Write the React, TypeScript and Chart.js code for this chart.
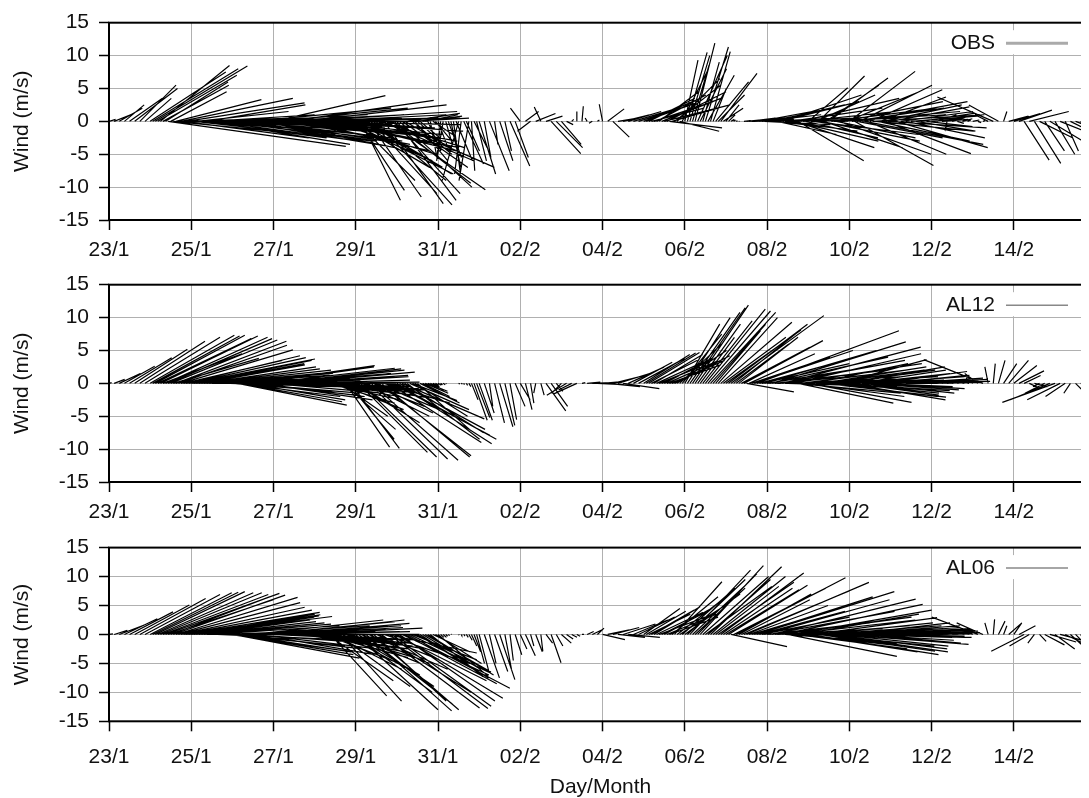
import React, { useEffect, useRef } from "react";
import { Chart, registerables } from "chart.js";

Chart.register(...registerables);

// Tick labels every 2 days, starting 23/1
const TICK_LABELS = ["23/1", "25/1", "27/1", "29/1", "31/1", "02/2", "04/2", "06/2", "08/2", "10/2", "12/2", "14/2"];

// Main sticks: one every 3 hours from 23/1 00h (8 per day, one row per day)
const STEP_HOURS = 3;
// Extra sticks in the dense periods, at hh:30 between the main ones (8 per day)
const EXTRA_OFFSET_HOURS = 1.5;
const EXTRA_START_DAY = 1; // 24/1 .. 31/1
const EXTRA2_START_DAY = 13; // 05/2 .. 10/2

// OBS eastward (u) and northward (v) wind, m/s
const OBS_U = [
  1, 2.5, 3.5, 3, 5, 6.5, 5.5, 4, // 23/1
  11.5, 14, 10.5, 9.5, 8.5, 13, 17, 18, // 24/1
  16, 14, 19, 15, 21, 18, 20, 22, // 25/1
  20, 23, 19, 22, 21, 24, 20, 23, // 26/1
  17, 22, 18, 22, 20, 24, 19, 23, // 27/1
  20, 18, 21, 16, 19, 14, 17, 12, // 28/1
  9, 6, 13, 10, 11.5, 14, 15, 12, // 29/1
  9, 10, 8, 6, 4, 6, 2, 3, // 30/1
  1.5, -1, 2, 1, -2.5, 3, -1.5, 2, // 31/1
  2.5, 1, 3, 0.5, 2, 1, 3, 2, // 01/2
  -1.5, 2, -2, 3, -1, 2.5, 4.5, 4, // 02/2
  3, 1, 0.3, 0, 0.2, -0.3, -0.5, 0.3, // 03/2
  -0.5, 2.5, 2.5, 3, 4, 5, 6, 7, // 04/2
  8, 7, 9, 6, 10, 8, 7, 6, // 05/2
  2, 3, 3, 4, 3.5, 3, 5, 5.5, // 06/2
  2, 0.5, 0.2, 0, 3, 5, 7, 9, // 07/2
  8, 11, 9, 12, 10, 13, 10, 14, // 08/2
  6, 16, 7, 12, 9, 17, 14, 15, // 09/2
  10, 12, 11, 18, 11, 15, 10, 13, // 10/2
  12, 14, 11, 12, 10, 9, 8, 7, // 11/2
  5, 3, 4, -0.3, 2, 1, 1.5, 0.5, // 12/2
  1, 0.5, 0.3, -2, -8.5, -4.5, 0.5, 3, // 13/2
  4, 5, 3.8, 6, 4, 5, 3, 5, // 14/2
  3, 5, 2, 6, 4, 3, 5, 2, // 15/2
];
const OBS_V = [
  0.3, 1, 2, 2.5, 3.5, 5, 5.5, 3.5,
  7.5, 8.4, 8.5, 6, 4.5, 3.3, 3.5, 2.8,
  -1, 1.5, -2.5, 2.5, -3.5, -2, 0.5, -3,
  -1.5, -3.8, 1, -2.5, 2, -2, -4, 0,
  3.9, -1, -3, 3.2, -2, 1.5, -4.5, -0.5,
  1, -3.5, -1.5, -5, 0.5, -6, -3, -7,
  -9, -12, -8, -11, -12.7, -6, -10.4, -9.4,
  -12, -7, 1.2, -5, -3.5, 0.8, -4.5, -2,
  -4, -6, -5.5, -7.5, -9, -6.5, -9, -4,
  -8, -5.5, -7.5, -3.5, -6, -4.5, -6.8, -5.5,
  2, 1.5, -1.5, 1.2, 2.2, 0.8, -4.9, -4,
  -3.5, -0.5, 0.3, 1.5, 2.3, 0.5, -0.3, 0.2,
  2.6, 1.9, -2.4, 0.5, 1, 1.5, 1.8, 2.2,
  2.8, 3.5, 3, 4.5, 2.5, -1, 5.5, -1.5,
  9.3, 10, 11.9, 8, 11.3, 10.6, 6, 7.3,
  2.5, 0.3, 0.1, 0, 0.3, 0.5, 0.8, 1,
  1.5, 2.5, -2, 4, 0.5, -3, -6, 1.5,
  5.1, -2, 6.9, -4, 6.6, 1, -5, 3,
  7.6, -6.7, 5.5, -3.5, 4.8, -1.5, 3.7, -4.9,
  2.2, -4, 1.5, -2.5, 0.8, -1.5, 1.2, -0.8,
  0.5, 1, 0.3, -1.5, 0.6, -0.3, 0.4, 0.2,
  0.2, -0.2, 0.1, 1, 3.7, 2.5, 1.5, 0.8,
  1.2, 1.7, -5.9, 1.5, -6.4, -2.5, -4.5, -3,
  -5, -2, -4.5, -3, -1.5, -4, -2.5, -3,
];
const OBS_U_EXTRA = [
  13, 12, 10, 27, 15, 18, 19, 17, // 24/1
  18, 17, 20, 16, 22, 19, 21, 20, // 25/1
  21, 22, 20, 23, 19, 22, 21, 24, // 26/1
  20, 19, 23, 18, 21, 22, 20, 21, // 27/1
  19, 17, 20, 15, 18, 13, 16, 10, // 28/1
  7, 12, 8, 11, 13, 9, 16, 10, // 29/1
  11, 7, 9, 5, 3, 5, 1, 2.5, // 30/1
  -0.5, 1, 1.5, 2.5, -1, 2, 0.5, 1.5, // 31/1
];
const OBS_V_EXTRA = [
  8, 7, 5.5, -3.8, -1.5, 0.5, -2.5, -0.5,
  -2, 0.5, -1.5, 1, -3, -0.5, -2, -1,
  -2.5, -1, -3, 0.5, -1.5, -3.5, 1, -2,
  2, -2, 0.5, -3.5, -1, 2.5, -2.5, 0.5,
  -2, -1, -4, -2.5, -4.5, -1, -8, -5,
  -10.5, -7, -11.5, -9, -4, -12.5, -7, -11,
  -10, -4, 0.5, -6, -2.5, 1, -5.5, -3,
  -5, -3.5, -7, -6, -8, -4.5, -7.5, -6,
];
const OBS_U_EXTRA2 = [
  7.5, 8, 7.5, 9, 9, 7, 6.5, 4, // 05/2
  3, 2.5, 4.5, 2.5, 4, 2, 4, 3, // 06/2
  1, 0.3, 0.1, 1, 4, 6, 8, 10, // 07/2
  10, 9, 12, 11, 14, 12, 15, 11, // 08/2
  13, 9, 15, 8, 16, 12, 18, 11, // 09/2
  14, 13, 16, 12, 17, 14, 12, 15, // 10/2
];
const OBS_V_EXTRA2 = [
  3.2, 2, 4, 3.5, 4.5, 2, 6.5, 8,
  10.5, 8.5, 10, 9, 7, 5, 4, 2,
  1, 0.2, 0, 0.1, 0.5, 0.3, 1.5, -0.5,
  0.5, -1, 3, -1.5, 2, -4, 3.5, -2.5,
  0.5, 4, -3, 5.5, 2, -2.5, 1.5, 4.5,
  2, -2.5, 3, -5, 1, -3, 2.5, -1,
];

// AL12 model
const AL12_U = [
  0.4, 1.6, 3.2, 4.6, 6.4, 8, 9.9, 11.4,
  12.8, 13.6, 14.8, 15.5, 16.2, 16.8, 17, 17.3,
  18.8, 17.5, 15.7, 17.2, 19.4, 17.1, 19.4, 18,
  14.8, 16.6, 17.8, 14.8, 18.5, 16.2, 20, 16.9,
  19.9, 18.4, 19.9, 16.1, 17.6, 16, 17.5, 16,
  14.4, 12.1, 14.4, 9.8, 14.3, 7.2, 6.7, 7.4,
  9.7, 11.5, 8.9, 13.2, 9.6, 13.4, 9.4, 14.9,
  14.4, 12.5, 11, 6.8, 7.9, 4.1, 3, 1,
  0.5, 0.3, 0, 0, 0.2, 0.1, 0.3, 2,
  2, 1.5, 0.5, 1.5, 2, 1.5, 1, 1.5,
  1.5, 1, 0.5, -0.3, 0.5, 3, 2.5, 1,
  -1.5, -3, -2, -3.5, 0.5, 2, 3, 4,
  3.4, 4.9, 4, 4.8, 5.5, 5.5, 5.9, 7,
  7, 7.7, 7.4, 6.2, 7.2, 7.8, 8.4, 6.4,
  5.3, 7.6, 8.1, 5.2, 9.1, 9.9, 6.8, 10.8,
  11.4, 14.1, 8, 10.4, 7.2, 11.9, 21.6, 13.3,
  15.6, 20.3, 16, 21, 16.6, 19.5, 14.5, 14.7,
  15.7, 14.4, 16.1, 18.6, 15.3, 17.6, 13.3, 14.4,
  14.5, 12.8, 13.7, 14.3, 14.4, 11.8, 13.2, 11.7,
  12, 12.3, 12.5, 12.8, 11.7, 10, 8.4, 5.9,
  3, 2, 1.5, 1, 0.8, 0.5, 0.3, 0.2,
  -1, -2, -9, -0.5, 0.3, 1, 2, 3,
  3.5, 3.8, 2.5, 1.5, 2, -1, -3, -6,
  -8, -5, -3, -1, 2, 4, 5, 6,
];
const AL12_V = [
  0.1, 0.6, 1.5, 2.6, 3.9, 5.2, 6.4, 7,
  7.3, 7.3, 7.2, 7, 6.6, 6.4, 5.1, 4.2,
  3.7, 3.5, 2.8, 2.2, 1.8, 1.2, 0.8, 0.2,
  -1.2, -3.3, -1.5, -2.5, 2.7, -2, 2.3, -0.8,
  2, 1, 1.7, -0.5, 0.5, -1.2, 0.2, -1,
  -0.8, -2, -1.5, -3, -2.2, -5, -9.7, -9.9,
  -6, -11.2, -3.5, -11.7, -4, -11.2, -3, -7.9,
  -9.2, -5.4, -8.5, -2.6, -7, -2, -1.2, -0.5,
  -0.3, -0.2, 0, 0, -0.1, -0.2, -0.5, -5.6,
  -5.6, -4.5, -3.5, -6, -6.6, -6.4, -5.5, -3.5,
  -2.5, -4, -3, -1.5, -1.8, -4.2, -3.5, -1.2,
  -1.5, -1.8, -1, -1.6, 0.1, 0.2, 0.1, -0.2,
  0.3, -0.5, 1, 1.5, -0.8, 2.5, 3.2, 3.8,
  4.4, 4.7, 4.4, 2.5, 3.8, 2.8, 4.2, 6,
  9, 10.8, 11.9, 7, 11.3, 10.8, 8, 9.3,
  8.1, 10.3, 6, 5.5, -1.3, 4, 8, 3,
  2.5, 6.3, 1.5, 5.5, -0.5, 4.5, -3, 1,
  -2.9, 3, 2, -2.1, 0.5, -1.1, 3.6, -1.5,
  2.5, -1.8, 1.5, -1, 1, -0.5, 1.8, 0.5,
  1.2, 0.5, 0.8, 0.3, 0.6, 0.2, 0.4, 0.1,
  0.3, 0.2, 0.3, 0.1, 0.2, 0.1, 0, 0,
  0.8, 1.5, 3.6, 2.5, 3, 3.5, 3, 3.5,
  2.7, 1.9, 1.2, -0.7, -0.5, -0.5, -1.5, -2.5,
  -2.9, -2.5, -2, -1.5, -2, -1.5, -2.5, -1,
];
const AL12_U_EXTRA = [
  13.2, 14.2, 12, 15.8, 13, 16.5, 15, 17.8,
  18, 16, 17, 18.5, 18, 19, 17.5, 16,
  16, 15.5, 17.5, 16, 18, 17, 19, 17,
  19, 17.5, 18.5, 17, 17, 16.5, 17, 15.5,
  13, 13.5, 11, 14, 10, 8, 7, 8.5,
  10.5, 10, 12, 9, 14, 10, 14, 15.5,
  13, 12, 9, 8, 6, 3.5, 2, 0.5,
  0.3, 0.1, 0, 0.1, 0.2, 0.2, 1, 2,
];
const AL12_V_EXTRA = [
  7.2, 6.8, 4.5, 6.8, 3.8, 5.8, 3.5, 3.9,
  3.6, 3, 2.5, 2, 1.5, 1, 0.5, -0.5,
  -2, -2.8, 0.5, -1.8, 2.5, -2.5, 1.5, -1.5,
  2.2, 0, 1.2, -1, 1, -0.5, -0.8, -1.8,
  -1.5, -0.5, -2.5, -1, -4, -7, -8.5, -5,
  -10.5, -5, -11.5, -4.5, -11, -3, -9, -8.5,
  -7, -7.5, -4, -5, -3, -1.5, -1, -0.3,
  -0.2, -0.1, 0, 0, -0.1, -0.3, -2.5, -5.2,
];
const AL12_U_EXTRA2 = [
  7.5, 7, 7, 7.5, 7.5, 8, 7.5, 6,
  6.5, 8, 6.5, 7.5, 9.5, 8, 9, 9.5,
  12, 10, 9, 12, 10, 15, 13, 17,
  18, 17, 19, 18, 20, 16, 16, 15,
  15, 17, 16, 17, 16, 15, 14, 15,
  14, 13.5, 14, 13, 14, 12.5, 12.5, 12,
];
const AL12_V_EXTRA2 = [
  4.6, 3.5, 3.2, 3.5, 3.3, 3.5, 5, 7.5,
  10, 11.5, 9, 9.5, 11, 9, 10, 7,
  9, 8, 7, 6.5, 4.5, 5, 3.5, 5,
  4, 2, 3.5, 0.5, 3, -1.5, 2, -2,
  1.5, -1, 2.5, 1, -2, 2, 1, -2.5,
  0.5, 2, -1.5, 1.5, -0.8, 1, 0.3, 1.2,
];

// AL06 model
const AL06_U = [
  0.6, 2, 3.7, 5, 6.6, 8.3, 10, 11.4,
  12.4, 13.6, 15.4, 17.3, 15, 18.5, 18.8, 20.3,
  21.4, 18, 16.5, 17.9, 19.4, 17.1, 19.4, 17.9,
  19.3, 17.2, 19.3, 18.5, 19.8, 17.7, 20, 17.7,
  19.9, 18.4, 19.1, 16.1, 19.5, 16, 17.5, 15.2,
  13.7, 15.2, 11.3, 8.6, 12.1, 9.3, 11.9, 10.5,
  12.5, 10.4, 13, 13.3, 9.6, 14.9, 13.7, 15.1,
  16.1, 13.2, 15.6, 9.8, 10.8, 8.8, 10, 5.6,
  7.6, 0.5, 0.2, 0, 0.1, 0.2, 0.5, 1,
  1.5, 2.3, 1, 2, 2.3, 1, 0.5, 1,
  1, 1.5, 0.5, 1, 0.3, 1, 1.5, 1,
  1.5, 1, 0.8, 0.5, 0.3, 1, 1.5, 1,
  3.4, 3.3, 4, 4.1, 4.9, 4.8, 5.2, 5.5,
  5.5, 6.3, 7, 7, 7.2, 7.4, 7.2, 7.6,
  8.4, 9.2, 7.6, 9.6, 10.1, 10.8, 9.6, 12.6,
  11.1, 8.5, 16.6, 10.4, 18.6, 11.9, 20.9, 13.3,
  15.6, 21.8, 16, 21.3, 16.6, 21.1, 15.9, 16.2,
  19.8, 18.8, 17.7, 17.9, 18, 16.9, 17.5, 18.9,
  15.3, 15.1, 15.3, 15.2, 15.6, 12.9, 14.3, 12.9,
  13.3, 12.8, 11.3, 9.8, 8.8, 6.8, 5.3, 3.6,
  2.5, 2, 1.5, 1, 0.8, 0.5, 0.3, 0.2,
  -1, -7, -4, -0.5, 0.2, 1, 0.5, 2,
  1.2, 2.5, -5, -3, -1, 1, 3, 4,
  3, 5, 4, 5, 3, 2, 1, 0.5,
];
const AL06_V = [
  0.1, 0.7, 1.6, 2.7, 3.9, 5.1, 6.2, 6.9,
  7.2, 7.4, 7.2, 7.1, 6.5, 6.4, 4.7, 3.8,
  3.1, 3.5, 2.5, 2, 1.5, -0.8, 0.8, -2,
  -4.1, -3, 1.5, -1.5, 2.5, -3.5, 2.2, -0.5,
  2.5, 0.5, 1.9, -1.5, 1.1, -2.5, 0, -1.5,
  -3, -1, -5, -10.6, -4, -11.5, -2.5, -7,
  -13, -5, -13.2, -13, -4.4, -12.7, -3.2, -12.4,
  -11, -7, -9.3, -4.4, -7.5, -6, -7, -3,
  -7.2, -0.5, -0.2, 0, -0.1, -0.3, -1, -3,
  -6.5, -7.5, -5, -6.4, -7.8, -6, -4.5, -3.5,
  -2.5, -3.7, -2, -3, -2.9, -1.5, -4.9, -2,
  -1.5, -0.8, -0.5, -0.3, 0, 0.5, 0.8, 1.1,
  -0.9, 0.8, 1.2, -0.5, 1.8, -0.5, 2.5, 3,
  4.5, 3.5, 4.8, 3, 4.5, 3, 9.1, 5.5,
  7, 11.1, 8, 11.9, 8.3, 11.7, 8.3, 10.6,
  7.7, -2.1, 9.8, 6, 9, 4, 7.4, 3,
  2, 6.1, 1, 5.2, -3.8, 4.2, -2, 1.5,
  -3.5, 2.9, -2.9, 1.5, -2.5, 0.5, -1.5, -1.7,
  2, -1, 1.2, -0.5, 0.8, 0.2, 0.5, 0.2,
  0.6, 0.3, 0.4, 0.1, 0.3, 0.1, 0.2, 0,
  0.2, 0.1, 0.2, 0.1, 0, 0.1, 0, 0,
  0.5, 3, 2, 2, 2.6, 2.3, 1.5, 2,
  2, 1.5, -2.9, -2, -1.5, -1.2, -1.8, -1.3,
  -2.5, -1.5, -2.2, -5.1, -3.5, -4.5, -4, -3,
];
const AL06_U_EXTRA = [
  13, 14.5, 16, 16, 17, 18.5, 19.5, 20,
  19, 17.5, 17, 18.5, 18, 18.5, 18.5, 18.5,
  18, 18.5, 19, 19, 18.5, 19, 18.5, 18.5,
  19, 18.5, 17.5, 18, 17.5, 16.5, 16, 14.5,
  14.5, 13, 10, 10.5, 11, 10, 11, 12,
  11.5, 13.5, 12, 11, 14, 13, 15, 14,
  14.5, 14, 12, 10, 9.5, 10, 8, 7,
  0.5, 0.3, 0.1, 0, 0.1, 0.3, 0.8, 1.2,
];
const AL06_V_EXTRA = [
  7.3, 7.2, 6.9, 6, 6.8, 5.5, 4.2, 3.4,
  3.2, 3, 2.2, 1.8, 0.3, 0, -1, -3,
  -3.5, -2.5, 0.5, 0.5, -2.5, 1, 1.5, -1,
  1.5, 1.2, 0, 0.5, -1.5, -1, -2, -2.5,
  -2, -4, -8, -6, -9, -6, -5, -10,
  -9, -12, -6, -11.5, -10, -5, -12.8, -8,
  -11.5, -8.5, -6.5, -5.5, -7, -6.5, -7.3, -5,
  -0.5, -0.3, 0, 0, -0.2, -0.5, -2, -5,
];
const AL06_U_EXTRA2 = [
  6, 6.5, 7, 7, 7.5, 7, 8, 8,
  8.8, 8.5, 9, 10, 9.5, 11, 11.5, 10.5,
  12, 14, 11, 16, 12, 18, 13, 19,
  19, 17, 20, 17, 19, 17, 18, 17,
  18, 18, 17, 18.5, 17, 17, 18, 16,
  15.2, 15.2, 15, 15.5, 14, 14, 13.5, 13,
];
const AL06_V_EXTRA2 = [
  4, 4.2, 3.8, 4, 3.5, 6.5, 7, 8,
  9.5, 9, 10.5, 10, 9.5, 10, 9, 8,
  8.5, 8, 7, 7.5, 5, 6.5, 4, 6,
  4, 2.5, 3, -1.5, 2.5, -2.5, 3.5, -3,
  1, -2, 2, -3, 1, -2, 1.5, -0.5,
  0.5, 1.5, -1.5, 1, -0.3, 1, -0.5, 0.4,
];

const FONT = "'Liberation Sans', Arial, Helvetica, sans-serif";
const TEXT_COLOR = "#111";
const GRID_COLOR = "#b0b0b0";
const STICK_SCALE = 0.16; // days of x per m/s of eastward wind
const X_MAX = 23.9;
const CANVAS_W = 1084;

type Pt = { x: number; y: number | null };
type Block = { u: number[]; v: number[]; startDay: number; offsetHours: number };

function buildSticks(blocks: Block[]) {
  const pts: Pt[] = [];
  for (const b of blocks) {
    for (let i = 0; i < b.u.length; i++) {
      const t = b.startDay + (b.offsetHours + i * STEP_HOURS) / 24;
      pts.push({ x: t, y: 0 });
      pts.push({ x: t + b.u[i] * STICK_SCALE, y: b.v[i] });
      pts.push({ x: t, y: null });
    }
  }
  return pts;
}

const framePlugin = {
  id: "frame",
  beforeDatasetsDraw(chart: any, _args: any, opts: any) {
    const { ctx, chartArea: a } = chart;
    ctx.save();
    ctx.fillStyle = "#fff";
    ctx.fillRect(a.right - 160, a.top + 7.5, 150, 24);
    ctx.font = `21px ${FONT}`;
    ctx.fillStyle = TEXT_COLOR;
    ctx.textAlign = "right";
    ctx.textBaseline = "middle";
    ctx.fillText(opts.label, a.right - 97, a.top + 20.5);
    ctx.strokeStyle = opts.lineColor;
    ctx.lineWidth = opts.lineWidth;
    ctx.beginPath();
    ctx.moveTo(a.right - 86, a.top + 20.5);
    ctx.lineTo(a.right - 24, a.top + 20.5);
    ctx.stroke();
    ctx.restore();
  },
  afterDraw(chart: any) {
    const { ctx, chartArea: a } = chart;
    ctx.save();
    ctx.strokeStyle = "#000";
    ctx.lineWidth = 2;
    ctx.strokeRect(a.left, a.top, a.right - a.left, a.bottom - a.top);
    ctx.restore();
  },
};

type PanelCfg = {
  label: string;
  blocks: Block[];
  height: number;
  padTop: number;
  xAxisHeight: number;
  tickPad: number;
  showTitle: boolean;
  lineColor: string;
  lineWidth: number;
};

function blocksOf(u: number[], v: number[], ue: number[], ve: number[], ue2: number[], ve2: number[]): Block[] {
  return [
    { u, v, startDay: 0, offsetHours: 0 },
    { u: ue, v: ve, startDay: EXTRA_START_DAY, offsetHours: EXTRA_OFFSET_HOURS },
    { u: ue2, v: ve2, startDay: EXTRA2_START_DAY, offsetHours: EXTRA_OFFSET_HOURS },
  ];
}

const PANELS: PanelCfg[] = [
  {
    label: "OBS",
    blocks: blocksOf(OBS_U, OBS_V, OBS_U_EXTRA, OBS_V_EXTRA, OBS_U_EXTRA2, OBS_V_EXTRA2),
    height: 262, padTop: 22.7, xAxisHeight: 42, tickPad: 8, showTitle: false, lineColor: "#aaaaaa", lineWidth: 3,
  },
  {
    label: "AL12",
    blocks: blocksOf(AL12_U, AL12_V, AL12_U_EXTRA, AL12_V_EXTRA, AL12_U_EXTRA2, AL12_V_EXTRA2),
    height: 263, padTop: 22.7, xAxisHeight: 43, tickPad: 8, showTitle: false, lineColor: "#888888", lineWidth: 1.5,
  },
  {
    label: "AL06",
    blocks: blocksOf(AL06_U, AL06_V, AL06_U_EXTRA, AL06_V_EXTRA, AL06_U_EXTRA2, AL06_V_EXTRA2),
    height: 273, padTop: 22.3, xAxisHeight: 76.7, tickPad: 13, showTitle: true, lineColor: "#888888", lineWidth: 1.5,
  },
];

function Panel({ cfg }: { cfg: PanelCfg }) {
  const ref = useRef<HTMLCanvasElement | null>(null);
  useEffect(() => {
    if (!ref.current) return;
    const font = { family: FONT, size: 21 };
    const grid = { color: GRID_COLOR, lineWidth: 1, tickLength: 10, tickColor: "#000", tickWidth: 1.5 };
    const chart = new Chart(ref.current, {
      type: "line",
      data: {
        datasets: [
          {
            label: cfg.label,
            data: buildSticks(cfg.blocks) as any,
            borderColor: "#000",
            borderWidth: 1.2,
            pointRadius: 0,
            spanGaps: false,
            tension: 0,
            fill: false,
          },
        ],
      },
      options: {
        animation: false,
        responsive: false,
        events: [],
        layout: { padding: { top: cfg.padTop, left: 0, right: 0, bottom: 0 } },
        plugins: {
          legend: { display: false },
          tooltip: { enabled: false },
          frame: { label: cfg.label, lineColor: cfg.lineColor, lineWidth: cfg.lineWidth },
        } as any,
        scales: {
          x: {
            type: "linear",
            min: 0,
            max: X_MAX,
            afterFit: (s: any) => {
              s.height = cfg.xAxisHeight;
            },
            ticks: {
              stepSize: 2,
              includeBounds: false,
              autoSkip: false,
              maxRotation: 0,
              padding: cfg.tickPad,
              font,
              color: TEXT_COLOR,
              callback: (val: any) => TICK_LABELS[Math.round(Number(val) / 2)] ?? "",
            },
            grid,
            border: { display: false },
            title: {
              display: cfg.showTitle,
              text: "Day/Month",
              font: { family: FONT, size: 21, lineHeight: 1 },
              color: TEXT_COLOR,
              padding: { top: 0, bottom: 0 },
            },
          },
          y: {
            min: -15,
            max: 15,
            afterFit: (s: any) => {
              s.width = 101;
            },
            ticks: { stepSize: 5, padding: 10, font, color: TEXT_COLOR },
            grid,
            border: { display: false },
            title: {
              display: true,
              text: "Wind (m/s)",
              font: { family: FONT, size: 21, lineHeight: 1 },
              color: TEXT_COLOR,
              padding: { top: 4, bottom: 0 },
            },
          },
        },
      } as any,
      plugins: [framePlugin],
    });
    return () => chart.destroy();
  }, [cfg]);
  return (
    <canvas
      ref={ref}
      width={CANVAS_W}
      height={cfg.height}
      style={{ display: "block", width: CANVAS_W, height: cfg.height }}
    />
  );
}

export default function App() {
  useEffect(() => {
    document.documentElement.style.overflow = "hidden";
    document.body.style.overflow = "hidden";
  }, []);
  return (
    <div style={{ width: 1081, height: 798, marginTop: -8, overflow: "hidden", background: "#fff" }}>
      {PANELS.map((p) => (
        <Panel key={p.label} cfg={p} />
      ))}
    </div>
  );
}
